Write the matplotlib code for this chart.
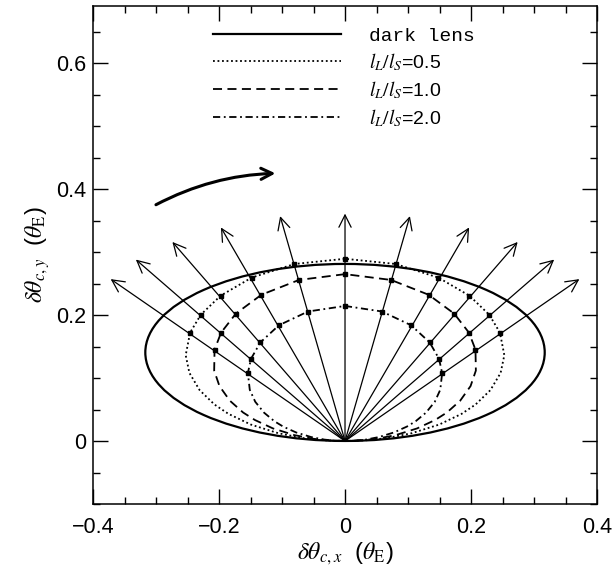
import matplotlib
matplotlib.use('Agg')
import matplotlib.pyplot as plt
from matplotlib.patches import Ellipse, FancyArrowPatch
from matplotlib.lines import Line2D
from matplotlib.ticker import MultipleLocator, FuncFormatter

plt.rcParams['font.family'] = 'Liberation Sans'
plt.rcParams['mathtext.fontset'] = 'stix'

# dark lens trajectory (ellipse)
dark_center = (0.0, 0.1406)
dark_width = 0.634
dark_height = 0.281

# luminous lens trajectories, right half, from the top (x=0) down to the origin
# first six points are the marked epochs
lum05_x = [0.0, 0.0803, 0.1482, 0.1976, 0.2290, 0.2459, 0.2529, 0.2470, 0.2308, 0.2073, 0.1852, 0.1497, 0.1059, 0.0664, 0.0333, 0.0]
lum05_y = [0.2893, 0.2810, 0.2594, 0.2306, 0.2004, 0.1721, 0.1362, 0.1081, 0.0808, 0.0580, 0.0432, 0.0262, 0.0124, 0.0046, 0.0012, 0.0]
lum10_x = [0.0, 0.0730, 0.1327, 0.1733, 0.1967, 0.2071, 0.2077, 0.1993, 0.1828, 0.1618, 0.1431, 0.1144, 0.0801, 0.0498, 0.0250, 0.0]
lum10_y = [0.2649, 0.2557, 0.2322, 0.2022, 0.1721, 0.1450, 0.1118, 0.0872, 0.0640, 0.0453, 0.0334, 0.0200, 0.0093, 0.0035, 0.0009, 0.0]
lum20_x = [0.0, 0.0587, 0.1050, 0.1343, 0.1492, 0.1542, 0.1512, 0.1425, 0.1285, 0.1121, 0.0982, 0.0776, 0.0538, 0.0332, 0.0167, 0.0]
lum20_y = [0.2144, 0.2056, 0.1837, 0.1566, 0.1306, 0.1079, 0.0814, 0.0623, 0.0450, 0.0314, 0.0229, 0.0136, 0.0063, 0.0023, 0.0006, 0.0]
n_marked = 6

# arrow tips, arrows start at the origin
arrow_x = [-0.372, -0.332, -0.274, -0.197, -0.103, 0.0, 0.103, 0.197, 0.274, 0.332, 0.372]
arrow_y = [0.257, 0.288, 0.316, 0.339, 0.357, 0.361, 0.357, 0.339, 0.316, 0.288, 0.257]

# direction-of-motion arrow
motion_start = (-0.304, 0.373)
motion_end = (-0.106, 0.425)

labels = ['dark lens', r'$l_L/l_S$=0.5', r'$l_L/l_S$=1.0', r'$l_L/l_S$=2.0']

fig = plt.figure(figsize=(6.12, 5.71), dpi=100)
ax = fig.add_axes([0.152, 0.1173, 0.8235, 0.8716])

ax.add_patch(Ellipse(dark_center, dark_width, dark_height, fill=False, color='k', lw=1.6))

styles = [(0, (1, 1.5)), (0, (5, 3)), (0, (4, 2, 1, 2))]
curves = [(lum05_x, lum05_y), (lum10_x, lum10_y), (lum20_x, lum20_y)]
for (cx, cy), ls in zip(curves, styles):
    xs = [-v for v in cx[::-1]] + cx[1:]
    ys = cy[::-1] + cy[1:]
    ax.plot(xs, ys, color='k', lw=1.3, ls=ls)
    mx = [-v for v in cx[1:n_marked]] + cx[:n_marked]
    my = cy[1:n_marked] + cy[:n_marked]
    ax.plot(mx, my, ls='none', marker='s', ms=3.5, color='k')

for x, y in zip(arrow_x, arrow_y):
    ax.annotate('', xy=(x, y), xytext=(0, 0),
                arrowprops=dict(arrowstyle='->', lw=0.9, color='k',
                                shrinkA=0, shrinkB=0, mutation_scale=22))

ax.add_patch(FancyArrowPatch(motion_start, motion_end, arrowstyle='->',
                             connectionstyle='arc3,rad=-0.12', lw=2.2,
                             color='k', mutation_scale=20))

handles = [Line2D([], [], color='k', lw=1.6)] + \
          [Line2D([], [], color='k', lw=1.3, ls=ls) for ls in styles]
leg = ax.legend(handles, labels, loc='upper left', bbox_to_anchor=(0.238, 0.958),
                frameon=False, borderpad=0, borderaxespad=0, handlelength=6.6,
                handletextpad=1.4, labelspacing=0.32, fontsize=14)
leg.get_texts()[0].set_family('Liberation Mono')

ax.set_xlim(-0.4, 0.4)
ax.set_ylim(-0.1, 0.69)
ax.xaxis.set_major_locator(MultipleLocator(0.2))
ax.xaxis.set_minor_locator(MultipleLocator(0.05))
ax.yaxis.set_major_locator(MultipleLocator(0.2))
ax.yaxis.set_minor_locator(MultipleLocator(0.05))
fmt = FuncFormatter(lambda v, p: '0' if abs(v) < 1e-9 else f'{v:.1f}'.replace('-', '\u2212'))
ax.xaxis.set_major_formatter(fmt)
ax.yaxis.set_major_formatter(fmt)
ax.tick_params(which='both', direction='in', top=True, right=True, width=1.0)
ax.tick_params(which='major', length=11, labelsize=15.5)
ax.tick_params(axis='x', which='major', pad=9)
ax.tick_params(axis='y', which='major', pad=5)
ax.tick_params(which='minor', length=5)
for s in ax.spines.values():
    s.set_linewidth(1.1)

ax.set_xlabel(r'$\delta\theta_{c,x}$  ($\theta_{\rm E}$)', fontsize=17, labelpad=2)
ax.set_ylabel(r'$\delta\theta_{c,y}$  ($\theta_{\rm E}$)', fontsize=17, labelpad=3)

fig.savefig('out.png', dpi=100)
